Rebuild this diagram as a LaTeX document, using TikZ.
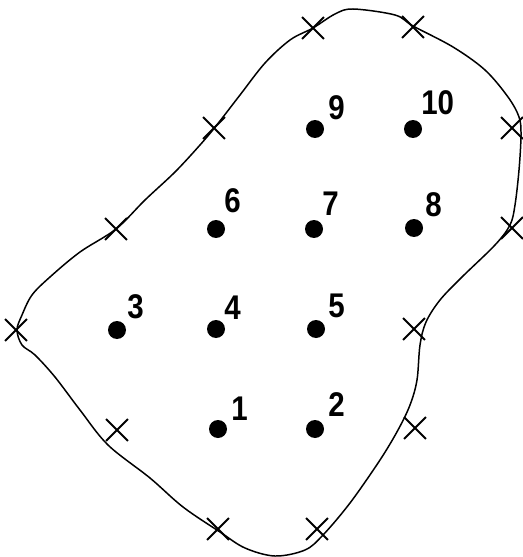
\documentclass[tikz,border=0pt]{standalone}
\usepackage{fontspec}
\setmainfont{Liberation Sans}
\usepackage{tikz}
\usetikzlibrary{positioning,shapes.misc}
\newcommand{\ptnum}[1]{\scalebox{0.86}[1]{#1}}

\begin{document}
\begin{tikzpicture}[x=0.02cm, y=-0.02cm,
  pt/.style={circle, fill=black, inner sep=0pt, minimum size=0.36cm},
  num/.style={inner sep=0pt, anchor=south west, font=\fontsize{19.5}{20}\selectfont\bfseries},
  xmark/.style={cross out, draw, line width=1.05pt, inner sep=0pt, minimum size=0.4cm}]
\useasboundingbox (0,0) rectangle (522,557);
% --- boundary ---
\draw[line width=0.85pt] plot[smooth cycle, tension=0.55] coordinates {
  (353,9) (395,15) (413,26) (453,47) (485,70) (508,97) (519,117) (521,135)
  (519,170) (515,205) (510,225) (495,245) (462,277) (440,300) (426,322)
  (420,345) (417,380) (410,405) (398,430) (380,460) (350,503) (323,535)
  (305,550) (275,556) (245,548) (220,532) (183,507) (150,478) (108,445)
  (80,410) (55,377) (35,355) (22,345) (17,330) (22,315) (32,295) (50,277)
  (80,252) (116,229) (145,200) (175,172) (200,145) (216,126) (240,95)
  (265,63) (290,40) (313,28) (335,14)};
% --- boundary marks ---
\node[xmark] (b1) at (313,28) {};
\node[xmark] (b2) at (413,27) {};
\node[xmark] (b3) at (214,128) {};
\node[xmark] (b4) at (512,128) {};
\node[xmark] (b5) at (116,229) {};
\node[xmark] (b6) at (512,228) {};
\node[xmark] (b7) at (16,330) {};
\node[xmark] (b8) at (414,329) {};
\node[xmark] (b9) at (117,430) {};
\node[xmark] (b10) at (415,428) {};
\node[xmark] (b11) at (218,529) {};
\node[xmark] (b12) at (317,529) {};
% --- interior points ---
\node[pt] (p1) at (218,429) {};
\node[pt] (p2) at (315,429) {};
\node[pt] (p3) at (117,330) {};
\node[pt] (p4) at (216,329) {};
\node[pt] (p5) at (316,329) {};
\node[pt] (p6) at (216,229) {};
\node[pt] (p7) at (314,229) {};
\node[pt] (p8) at (414,228) {};
\node[pt] (p9) at (315,129) {};
\node[pt] (p10) at (413,129) {};
% --- numbers ---
\node[num] (n1) at ([shift={(0.26cm,0.16cm)}]p1.center) {\ptnum{1}};
\node[num] (n2) at ([shift={(0.26cm,0.24cm)}]p2.center) {\ptnum{2}};
\node[num] (n3) at ([shift={(0.2cm,0.22cm)}]p3.center) {\ptnum{3}};
\node[num] (n4) at ([shift={(0.16cm,0.18cm)}]p4.center) {\ptnum{4}};
\node[num] (n5) at ([shift={(0.24cm,0.22cm)}]p5.center) {\ptnum{5}};
\node[num] (n6) at ([shift={(0.16cm,0.32cm)}]p6.center) {\ptnum{6}};
\node[num] (n7) at ([shift={(0.16cm,0.26cm)}]p7.center) {\ptnum{7}};
\node[num] (n8) at ([shift={(0.22cm,0.22cm)}]p8.center) {\ptnum{8}};
\node[num] (n9) at ([shift={(0.26cm,0.18cm)}]p9.center) {\ptnum{9}};
\node[num] (n10) at ([shift={(0.16cm,0.28cm)}]p10.center) {\ptnum{10}};
\end{tikzpicture}
\end{document}
